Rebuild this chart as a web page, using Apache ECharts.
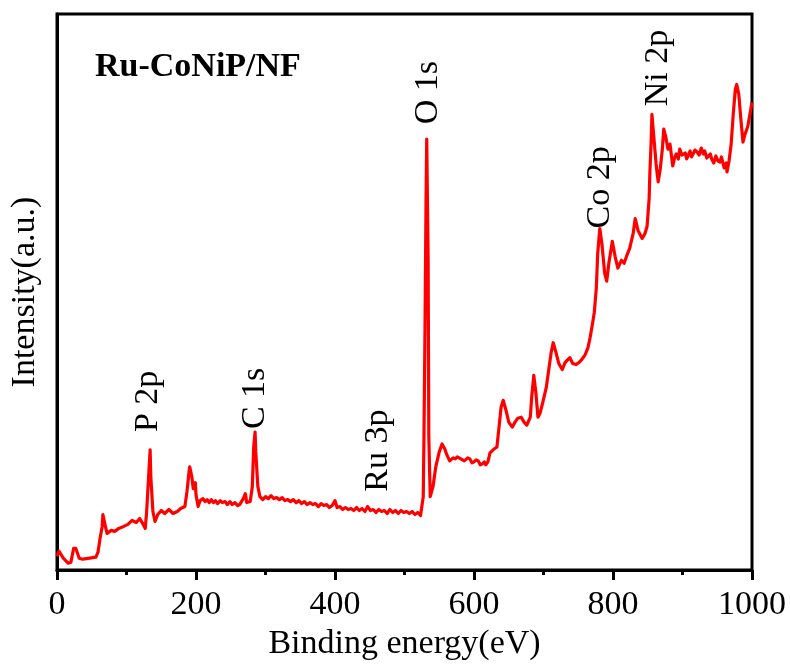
<!DOCTYPE html>
<html>
<head>
<meta charset="utf-8">
<script src="https://cdn.jsdelivr.net/npm/echarts@6/dist/echarts.min.js"></script>
<style>html,body{margin:0;padding:0;background:#fff}#c{width:790px;height:666px}</style>
</head>
<body>
<div id="c"></div>
<script>
// Binding energy (eV)
const energy = [
0,3,9,16,20,24,27,32,37,47,56,59,62,65,66,69,72,78,83,89,96,102,108,114,119,124,127,129,131,134,135,138,141,145,150,155,161,167,173,178,184,187,190,191,194,196,199,200,
203,206,210,213,216,219,222,225,228,231,235,238,242,245,249,252,256,260,263,268,271,273,278,281,283,285,286,289,
292,296,300,304,308,312,316,320,324,328,332,336,340,344,348,352,356,360,364,368,372,376,380,384,388,392,396,400,403,407,411,415,419,423,427,431,435,439,443,447,451,455,459,463,467,471,475,479,483,487,491,495,499,503,507,511,515,519,523,525,
527,528,529.5,531,532,534,535,537,538,541,545,550,554,
558,561,563,565,567,570,573,576,578,581,583,586,588,591,594,597,600,603,606,609,612,615,617,620,
623,629,633,636,639,642,646,650,655,659,663,668,672,676,681,683,686,689,692,695,699,704,708,711,714,718,722,727,731,735,738,742,747,751,755,760,764,767,770,773,776,778,781,784,788,791,794,799,803,807,812,816,820,824,829,832,836,842,846,849,852,853,855,856,859,862,865,868,871,873,876,879,882,
886,889,891,894,896,899,901,904,906,909,911,913,915,918,921,924,927,930,932,935,937,940,942,945,948,951,954,956,958,960,961,963,964,
967,970,973,976,978,981,984,987,990,994,997,1000];
// Intensity (a.u.)
const intensity = [
14,19,12,7,8,22,22,12,11,12,13,18,32,44,56,46,37,40,39,42,44,46,50,48,52,46,42,59,84,121,94,59,49,56,60,57,61,57,59,62,64,79,99,104,94,82,88,76,
64,70,72,69,71,68,71,68,70,67,70,68,69,66,69,66,68,65,66,72,77,68,69,84,124,139,119,84,
74,71,74,72,75,72,73,71,73,70,71,69,71,68,70,67,69,66,68,66,67,64,67,65,66,63,65,70,63,64,61,63,61,62,60,63,60,62,59,64,60,61,58,61,59,60,57,61,58,60,57,60,58,59,57,59,56,58,55,56,
74,134,244,374,434,314,134,74,72,84,104,119,127,
122,116,114,110,109,113,112,114,116,112,114,110,111,113,112,108,109,111,110,106,107,109,106,109,
118,122,124,144,164,171,161,149,144,149,153,154,149,146,154,174,196,179,154,158,169,184,204,219,229,219,208,202,209,212,214,208,207,209,212,217,224,234,246,259,284,319,344,329,299,291,309,331,316,304,312,309,317,324,339,354,342,334,339,346,374,399,434,459,434,409,391,404,424,444,436,424,429,
407,416,419,414,424,418,416,420,414,419,422,416,417,423,421,418,425,419,422,415,416,419,414,410,417,412,411,416,414,405,406,410,401,
412,429,459,484,489,479,454,431,439,447,459,471];
// Peak annotations: name, anchor energy, anchor intensity (bottom of label)
const peakNames = ['P 2p','C 1s','Ru 3p','O 1s','Co 2p','Ni 2p'];
const peakEnergy = [131,285,462,534,781,865];
const peakIntensity = [139,142,79,449,344,467];
const xTicks = [0,200,400,600,800,1000];
const sampleName = 'Ru-CoNiP/NF';

const serif = '"Liberation Serif","Times New Roman",serif';
const chart = echarts.init(document.getElementById('c'), null, {renderer:'canvas'});
chart.setOption({
  animation:false,
  backgroundColor:'#fff',
  title:{text:sampleName,left:95,top:50,padding:0,
    textStyle:{fontFamily:serif,fontSize:34,fontWeight:'bold',color:'#000'}},
  grid:{left:57,right:38,top:14,bottom:92,show:true,borderColor:'#000',borderWidth:3,containLabel:false},
  xAxis:{type:'value',min:xTicks[0],max:xTicks[xTicks.length-1],interval:200,
    name:'Binding energy(eV)',nameLocation:'middle',nameGap:55,
    nameTextStyle:{fontFamily:serif,fontSize:34,color:'#000'},
    axisLine:{show:true,lineStyle:{color:'#000',width:3}},
    axisTick:{show:true,inside:false,length:10,lineStyle:{color:'#000',width:3}},
    minorTick:{show:true,splitNumber:2,length:5,lineStyle:{color:'#000',width:3}},
    splitLine:{show:false},minorSplitLine:{show:false},
    axisLabel:{fontFamily:serif,fontSize:34,color:'#000',margin:18,formatter:v=>String(v)}},
  yAxis:{type:'value',min:0,max:560,
    name:'Intensity(a.u.)',nameLocation:'middle',nameGap:15,
    nameTextStyle:{fontFamily:serif,fontSize:34,color:'#000'},
    axisLine:{show:true,lineStyle:{color:'#000',width:3}},
    axisTick:{show:false},axisLabel:{show:false},splitLine:{show:false}},
  series:[
    {type:'line',data:energy.map((e,i)=>[e,intensity[i]]),showSymbol:false,
     lineStyle:{color:'#ff0000',width:3.2,join:'round'},itemStyle:{color:'#ff0000'},z:3},
    {type:'scatter',symbolSize:0,silent:true,itemStyle:{opacity:1},
     data:peakNames.map((n,i)=>({value:[peakEnergy[i],peakIntensity[i]],name:n})),
     label:{show:true,position:'top',distance:0,rotate:90,align:'left',verticalAlign:'middle',opacity:1,
       formatter:p=>p.name,fontFamily:serif,fontSize:34,color:'#000'}}
  ]
});
</script>
</body>
</html>
